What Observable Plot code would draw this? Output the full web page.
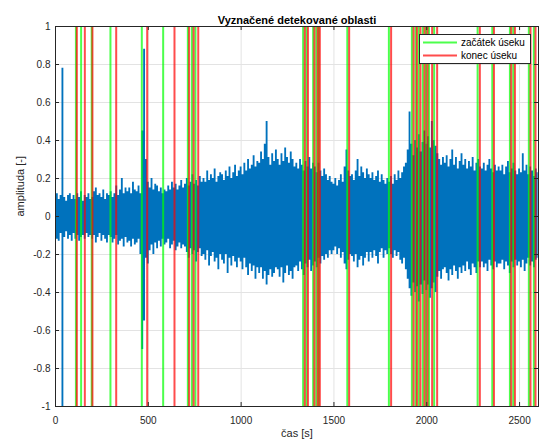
<!DOCTYPE html>
<html>
<head>
<meta charset="utf-8">
<script src="https://cdn.jsdelivr.net/npm/d3@7"></script>
<script src="https://cdn.jsdelivr.net/npm/@observablehq/plot@0.6"></script>
<style>
  html, body { margin: 0; padding: 0; background: #fff; }
  svg { display: block; }
</style>
</head>
<body>
<div id="chart"></div>
<script>
// ---- data ----
const titleText = "Vyznačené detekované oblasti";
const xLabel = "čas [s]";
const yLabel = "amplituda [-]";
const legendLabels = ["začátek úseku", "konec úseku"];
const xTicks = [0, 500, 1000, 1500, 2000, 2500];
const yTicks = [-1, -0.8, -0.6, -0.4, -0.2, 0, 0.2, 0.4, 0.6, 0.8, 1];
const xMax = 2602;
const sampleStep = 10; // seconds between envelope samples

// signal envelope (upper / lower extent), one value per sampleStep seconds
const envHi = [
  0.10,0.12,0.09,0.11,0.78,0.10,0.08,0.11,0.12,0.09,
  0.11,0.09,0.12,0.10,0.13,0.08,0.11,0.10,0.12,0.09,
  0.10,0.13,0.15,0.11,0.12,0.10,0.14,0.09,0.12,0.11,
  0.13,0.10,0.12,0.16,0.11,0.14,0.20,0.12,0.15,0.13,
  0.15,0.12,0.18,0.14,0.13,0.16,0.12,0.45,0.88,0.30,
  0.18,0.15,0.20,0.14,0.17,0.16,0.13,0.15,0.12,0.14,
  0.13,0.16,0.14,0.18,0.15,0.17,0.14,0.16,0.19,0.15,
  0.17,0.20,0.16,0.18,0.22,0.17,0.19,0.16,0.21,0.18,
  0.20,0.18,0.24,0.19,0.22,0.20,0.25,0.18,0.21,0.23,
  0.22,0.19,0.24,0.21,0.26,0.20,0.23,0.27,0.21,0.24,
  0.26,0.22,0.28,0.24,0.30,0.25,0.27,0.32,0.26,0.29,
  0.28,0.34,0.30,0.38,0.50,0.31,0.27,0.33,0.29,0.35,
  0.30,0.27,0.33,0.29,0.36,0.31,0.28,0.34,0.30,0.26,
  0.28,0.25,0.30,0.27,0.24,0.29,0.26,0.31,0.25,0.28,
  0.26,0.23,0.28,0.24,0.21,0.25,0.22,0.19,0.21,0.18,
  0.17,0.20,0.16,0.19,0.22,0.18,0.26,0.35,0.24,0.21,
  0.22,0.19,0.24,0.30,0.21,0.26,0.23,0.20,0.25,0.22,
  0.20,0.23,0.19,0.21,0.24,0.18,0.22,0.19,0.17,0.20,
  0.18,0.21,0.17,0.22,0.19,0.24,0.20,0.23,0.26,0.28,
  0.35,0.55,0.38,0.32,0.40,0.36,0.43,0.34,0.39,0.45,
  0.38,0.42,0.36,0.50,0.40,0.37,0.33,0.30,0.27,0.31,
  0.28,0.32,0.26,0.30,0.35,0.27,0.31,0.25,0.29,0.33,
  0.27,0.30,0.25,0.29,0.26,0.31,0.24,0.28,0.30,0.26,
  0.25,0.28,0.24,0.27,0.30,0.25,0.23,0.27,0.24,0.26,
  0.24,0.27,0.22,0.26,0.29,0.23,0.25,0.28,0.24,0.22,
  0.25,0.23,0.33,0.24,0.27,0.22,0.26,0.24,0.21,0.25,
  0.23
];
const envLo = [
  -0.10,-0.12,-0.13,-0.09,-1.00,-0.11,-0.08,-0.12,-0.10,-0.13,
  -0.09,-0.12,-0.10,-0.13,-0.11,-0.10,-0.12,-0.09,-0.11,-0.10,
  -0.12,-0.10,-0.14,-0.11,-0.09,-0.13,-0.10,-0.12,-0.14,-0.10,
  -0.11,-0.14,-0.12,-0.10,-0.15,-0.13,-0.12,-0.16,-0.11,-0.14,
  -0.13,-0.16,-0.12,-0.15,-0.14,-0.12,-0.20,-0.70,-0.55,-0.22,
  -0.25,-0.18,-0.15,-0.20,-0.14,-0.17,-0.13,-0.16,-0.12,-0.15,
  -0.14,-0.12,-0.17,-0.15,-0.13,-0.18,-0.16,-0.14,-0.17,-0.15,
  -0.16,-0.19,-0.22,-0.17,-0.20,-0.18,-0.24,-0.19,-0.17,-0.21,
  -0.20,-0.23,-0.18,-0.26,-0.21,-0.19,-0.24,-0.22,-0.28,-0.20,
  -0.23,-0.25,-0.20,-0.30,-0.22,-0.26,-0.21,-0.24,-0.27,-0.22,
  -0.24,-0.28,-0.22,-0.27,-0.31,-0.25,-0.29,-0.26,-0.33,-0.27,
  -0.30,-0.27,-0.33,-0.29,-0.36,-0.31,-0.28,-0.32,-0.30,-0.27,
  -0.28,-0.32,-0.27,-0.35,-0.30,-0.26,-0.31,-0.29,-0.33,-0.27,
  -0.26,-0.29,-0.24,-0.28,-0.31,-0.25,-0.27,-0.23,-0.29,-0.26,
  -0.24,-0.27,-0.22,-0.25,-0.21,-0.23,-0.20,-0.22,-0.18,-0.20,
  -0.18,-0.16,-0.20,-0.17,-0.22,-0.19,-0.25,-0.28,-0.23,-0.20,
  -0.21,-0.24,-0.20,-0.27,-0.23,-0.21,-0.26,-0.22,-0.19,-0.24,
  -0.19,-0.22,-0.18,-0.21,-0.25,-0.19,-0.17,-0.22,-0.18,-0.20,
  -0.17,-0.20,-0.22,-0.18,-0.21,-0.19,-0.23,-0.25,-0.22,-0.28,
  -0.33,-0.38,-0.42,-0.35,-0.40,-0.37,-0.45,-0.36,-0.41,-0.34,
  -0.39,-0.36,-0.43,-0.38,-0.35,-0.40,-0.32,-0.29,-0.33,-0.28,
  -0.27,-0.30,-0.34,-0.28,-0.31,-0.26,-0.29,-0.33,-0.27,-0.30,
  -0.26,-0.29,-0.24,-0.28,-0.31,-0.25,-0.27,-0.30,-0.24,-0.27,
  -0.24,-0.27,-0.25,-0.29,-0.23,-0.26,-0.28,-0.24,-0.27,-0.25,
  -0.25,-0.23,-0.28,-0.24,-0.26,-0.30,-0.24,-0.27,-0.23,-0.26,
  -0.24,-0.27,-0.23,-0.29,-0.25,-0.22,-0.26,-0.24,-0.27,-0.23,
  -0.22
];

// detected region boundaries [s]
const starts = [110, 138, 195, 296, 465, 580, 713, 735, 754, 1334, 1352, 1388, 1405, 1418,
  1572, 1796, 1920, 1940, 1957, 1979, 1996, 2012, 2040, 2274, 2353, 2448, 2466, 2550, 2577];
const ends = [115, 158, 199, 327, 494, 641, 720, 744, 769, 1343, 1360, 1395, 1413, 1424,
  1582, 1808, 1929, 1947, 1966, 1988, 2004, 2029, 2056, 2286, 2362, 2455, 2475, 2559, 2586];

// ---- build ----
const samples = envHi.map((hi, i) => ({t: i * sampleStep, hi, lo: envLo[i]}));
const W = 539, H = 444;
const mL = 55, mR = 1, mT = 26, mB = 38;
const yDom = [-1, 1];
const tickPx = 4;
const tyLen = tickPx * (yDom[1] - yDom[0]) / (H - mT - mB);
const txLen = tickPx * xMax / (W - mL - mR);
const axisColor = "#262626";
const green = "#00ff00", red = "#ff0000", lineOpacity = 0.7;
const fmtY = d => String(+d.toFixed(1));
const fmtX = d => String(d);

const chart = Plot.plot({
  width: W, height: H,
  marginLeft: mL, marginRight: mR, marginTop: mT, marginBottom: mB,
  x: {domain: [0, xMax], label: null},
  y: {domain: yDom, label: null},
  style: {fontFamily: "'Liberation Sans', Arial, Helvetica, sans-serif", fontSize: "10px", color: axisColor, background: "#fff", overflow: "visible"},
  marks: [
    Plot.ruleX(xTicks, {stroke: "#e3e3e3", strokeOpacity: 1}),
    Plot.ruleY(yTicks, {stroke: "#e3e3e3", strokeOpacity: 1}),
    Plot.areaY(samples, {x: "t", y1: "lo", y2: "hi", curve: "step", fill: "#0072BD", fillOpacity: 1}),
    Plot.ruleX(starts, {stroke: green, strokeOpacity: lineOpacity, strokeWidth: 2}),
    Plot.ruleX(ends, {stroke: red, strokeOpacity: lineOpacity, strokeWidth: 2}),
    // inward ticks
    Plot.ruleX(xTicks, {y1: yDom[0], y2: yDom[0] + tyLen, stroke: axisColor}),
    Plot.ruleX(xTicks, {y1: yDom[1], y2: yDom[1] - tyLen, stroke: axisColor}),
    Plot.ruleY(yTicks, {x1: 0, x2: txLen, stroke: axisColor}),
    Plot.ruleY(yTicks, {x1: xMax, x2: xMax - txLen, stroke: axisColor}),
    Plot.axisX(xTicks, {tickSize: 0, tickPadding: 10, tickFormat: fmtX, label: null, fill: axisColor, fontSize: 10}),
    Plot.axisY(yTicks, {tickSize: 0, tickPadding: 5, tickFormat: fmtY, label: null, fill: axisColor, fontSize: 10}),
    Plot.frame({stroke: axisColor, strokeWidth: 1}),
    Plot.text([titleText], {text: d => d, frameAnchor: "top", dy: -10, fontWeight: "bold", fontSize: 11, fill: "#000"}),
    Plot.text([xLabel], {text: d => d, frameAnchor: "bottom", dy: 30, fontSize: 11, fill: axisColor}),
    Plot.text([yLabel], {text: d => d, frameAnchor: "left", dx: -35, rotate: -90, fontSize: 11, fill: axisColor})
  ]
});

// legend (drawn in the same SVG, top-right inside the axes)
const svg = d3.select(chart);
const lg = svg.append("g")
  .attr("font-family", "'Liberation Sans', Arial, sans-serif")
  .attr("font-size", 10)
  .attr("text-anchor", "start");
lg.append("rect").attr("x", 419.5).attr("y", 34.5).attr("width", 111).attr("height", 29)
  .attr("fill", "#fff").attr("stroke", axisColor).attr("stroke-width", 1);
const legendColors = [green, red];
legendLabels.forEach((lab, i) => {
  const y = 42.5 + i * 13;
  lg.append("line").attr("x1", 423).attr("x2", 457).attr("y1", y).attr("y2", y)
    .attr("stroke", legendColors[i]).attr("stroke-opacity", lineOpacity).attr("stroke-width", 2);
  lg.append("text").attr("x", 461).attr("y", y).attr("dy", "0.35em")
    .attr("text-anchor", "start").attr("fill", "#000").text(lab);
});

document.getElementById("chart").appendChild(chart);
</script>
</body>
</html>
